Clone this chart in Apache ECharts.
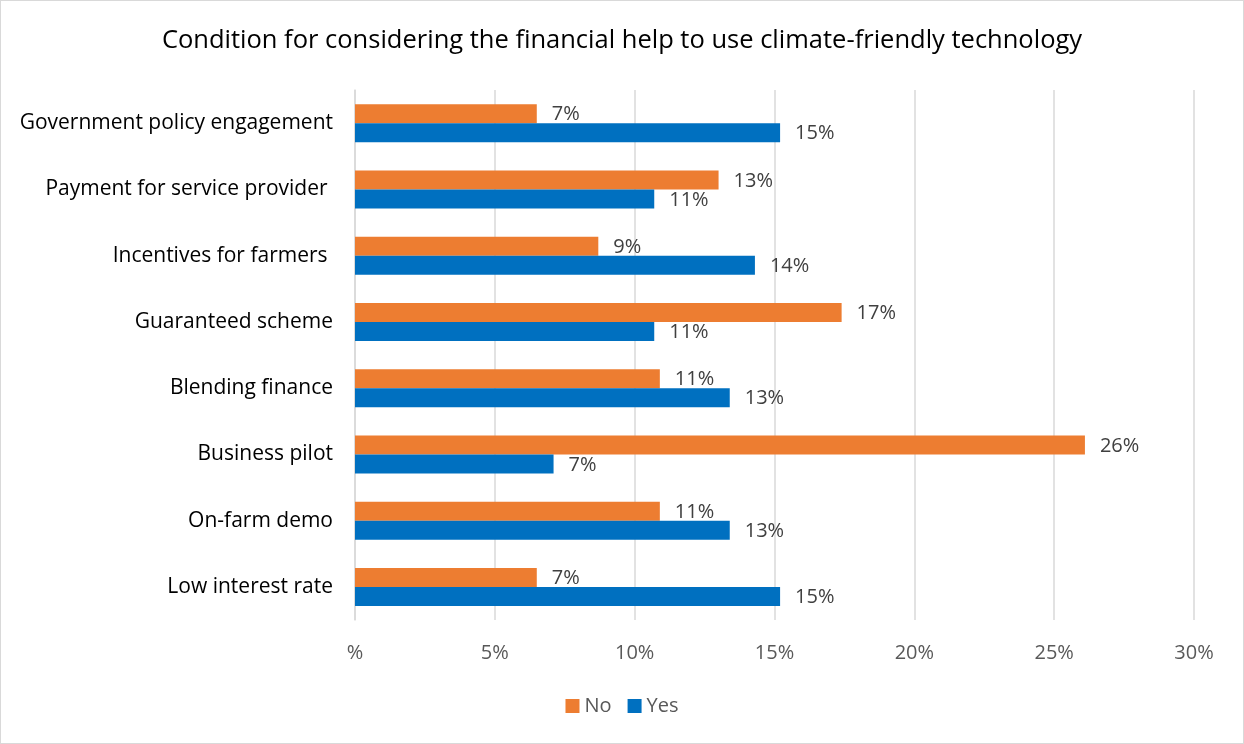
<!DOCTYPE html>
<html>
<head>
<meta charset="utf-8">
<script src="https://cdn.jsdelivr.net/npm/echarts@6/dist/echarts.min.js"></script>
<style>
  html, body { margin: 0; padding: 0; background: #fff; }
  #chart { width: 1244px; height: 744px; box-sizing: border-box; border: 1px solid #d9d9d9; }
</style>
</head>
<body>
<div id="chart"></div>
<script>
// Conditions, listed top to bottom
const categories = [
  'Government policy engagement',
  'Payment for service provider ',
  'Incentives for farmers ',
  'Guaranteed scheme',
  'Blending finance',
  'Business pilot',
  'On-farm demo',
  'Low interest rate'
];
// Share of respondents (%)
const noValues  = [6.5, 13.0, 8.7, 17.4, 10.9, 26.1, 10.9, 6.5];
const yesValues = [15.2, 10.7, 14.3, 10.7, 13.4, 7.1, 13.4, 15.2];
const tickLabels = ['%', '5%', '10%', '15%', '20%', '25%', '30%'];

const FONT = 'Open Sans';
const chart = echarts.init(document.getElementById('chart'), null, { renderer: 'canvas' });

const labelStyle = {
  show: true,
  position: 'right',
  distance: 15,
  offset: [0, 1],
  color: '#404040',
  fontFamily: FONT,
  fontSize: 20,
  formatter: p => Math.round(p.value) + '%'
};

chart.setOption({
  animation: false,
  title: {
    text: 'Condition for considering the financial help to use climate-friendly technology',
    left: 'center',
    top: 22,
    textStyle: { color: '#000', fontFamily: FONT, fontSize: 25.5, fontWeight: 'normal' }
  },
  legend: {
    bottom: 22,
    left: 'center',
    itemWidth: 14,
    itemHeight: 14,
    itemGap: 16,
    icon: 'rect',
    textStyle: { color: '#595959', fontFamily: FONT, fontSize: 20 },
    data: ['No', 'Yes']
  },
  grid: { left: 354, right: 49, top: 89, bottom: 123 },
  xAxis: {
    type: 'value',
    min: 0,
    max: 30,
    interval: 5,
    axisLine: { show: false },
    axisTick: { show: false },
    splitLine: { lineStyle: { color: '#d9d9d9', width: 1.5 } },
    axisLabel: {
      color: '#595959',
      fontFamily: FONT,
      fontSize: 20,
      margin: 23,
      formatter: (v) => tickLabels[Math.round(v / 5)]
    }
  },
  yAxis: {
    type: 'category',
    inverse: true,
    data: categories,
    axisLine: { lineStyle: { color: '#d9d9d9', width: 1.5 } },
    axisTick: { show: false },
    axisLabel: { color: '#000', fontFamily: FONT, fontSize: 21, margin: 22 }
  },
  series: [
    {
      name: 'No',
      type: 'bar',
      data: noValues,
      barWidth: 19,
      barGap: '0%',
      itemStyle: { color: '#ED7D31' },
      label: labelStyle
    },
    {
      name: 'Yes',
      type: 'bar',
      data: yesValues,
      barWidth: 19,
      barGap: '0%',
      itemStyle: { color: '#0070C0' },
      label: labelStyle
    }
  ]
});
</script>
</body>
</html>
